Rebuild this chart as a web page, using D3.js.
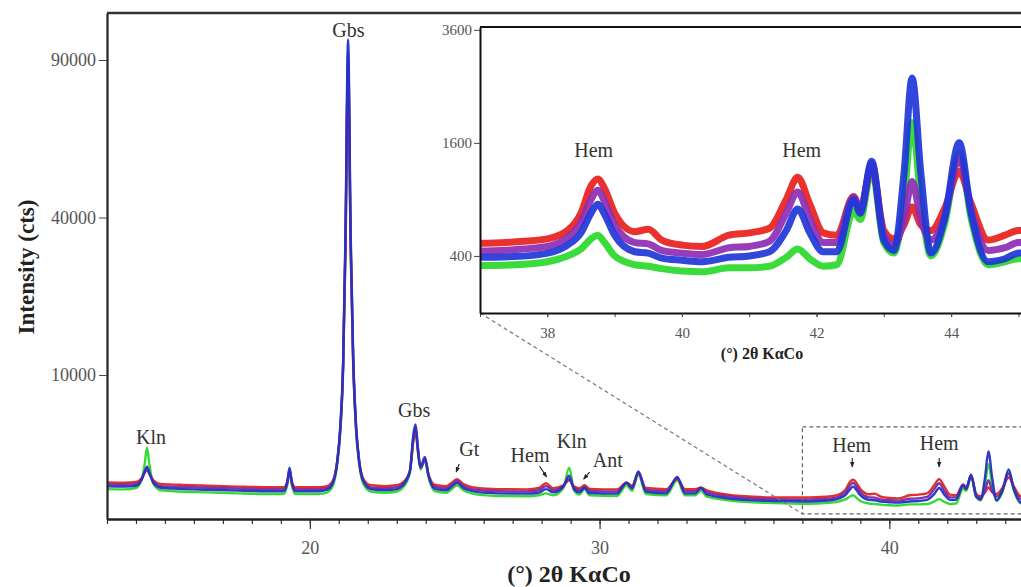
<!DOCTYPE html>
<html><head><meta charset="utf-8">
<script src="https://cdn.jsdelivr.net/npm/d3@7"></script>
<style>
html,body{margin:0;padding:0;background:#fff;}
svg{display:block;font-family:"Liberation Serif","Times New Roman",serif;}
</style></head><body>
<svg id="chart" width="1021" height="587"></svg>
<script>
// ---------- DATA ----------
const angles = [13.0,13.6,14.0,14.2,14.3,14.38,14.46,14.6,14.85,15.5,16.5,17.5,18.5,19.1,19.22,19.3,19.38,19.5,20.3,20.6,20.8,20.95,21.05,21.15,21.23,21.32,21.41,21.5,21.6,21.7,21.85,22.1,22.6,23.0,23.2,23.45,23.58,23.65,23.73,23.82,23.97,24.1,24.3,24.7,24.9,25.08,25.3,25.8,26.5,27.5,27.9,28.15,28.4,28.75,28.95,29.12,29.3,29.48,29.65,30.6,30.93,31.12,31.34,31.6,32.3,32.68,32.95,33.3,33.5,33.7,35.0,36.0,37.0,37.5,38.0,38.3,38.5,38.65,38.75,38.85,39.0,39.3,39.5,39.7,40.0,40.3,40.7,41.0,41.3,41.55,41.72,41.9,42.1,42.3,42.55,42.65,42.82,43.0,43.15,43.3,43.42,43.55,43.7,43.9,44.12,44.3,44.55,44.8,45.0,45.5];
const green  = [760,750,800,1150,1900,2900,1900,950,720,680,650,620,600,600,900,1500,900,600,600,650,900,1900,4000,11000,32000,88000,32000,11000,4000,1900,950,680,640,680,800,1400,3500,4200,2600,1600,2100,1200,700,640,760,900,720,580,540,530,560,620,560,800,1700,720,580,760,560,540,900,700,1350,600,560,1100,560,560,700,520,380,350,335,340,360,400,450,530,560,500,400,340,330,315,300,295,320,320,330,390,450,380,330,340,780,700,1250,500,420,900,1900,900,400,650,1450,700,340,360,380,380];
const blue   = [860,850,880,1150,1500,1750,1450,1000,810,770,740,710,690,690,1000,1700,1000,690,690,740,1000,2100,4500,12000,36000,98000,36000,12000,4500,2100,1050,760,720,760,880,1500,4000,4700,2900,1700,2300,1300,780,720,850,1000,800,660,620,610,640,760,650,850,1300,750,650,800,630,610,1000,780,1500,670,620,1250,620,620,800,590,430,400,390,395,420,480,580,760,850,750,560,430,420,385,370,360,390,400,430,600,800,580,430,430,900,760,1350,520,440,1200,2650,1200,420,700,1600,750,360,380,420,420];
const purple = [930,920,950,1150,1450,1650,1400,1050,870,840,810,780,760,760,1000,1600,1000,760,760,800,1050,2100,4300,11500,34000,93000,34000,11500,4300,2100,1100,820,790,830,940,1500,3700,4400,2800,1700,2200,1300,850,790,920,1080,870,730,690,680,720,870,720,880,1150,800,720,850,700,680,1000,830,1450,730,690,1200,690,690,800,650,480,450,435,445,470,540,670,900,1000,880,650,500,490,440,420,410,460,470,510,760,980,700,500,500,920,780,1320,560,480,700,1100,700,520,720,1400,780,440,460,500,500];
const red    = [1010,1000,1030,1200,1450,1600,1400,1100,950,920,880,850,830,830,1050,1500,1050,830,830,870,1100,2100,4200,11000,32000,89000,32000,11000,4200,2100,1150,900,870,900,1000,1500,3500,4100,2700,1700,2100,1350,920,870,1000,1150,950,800,760,750,800,980,790,900,1100,850,790,900,770,750,1000,880,1400,800,760,1150,760,760,820,720,530,500,495,505,530,600,760,1050,1130,1020,760,590,610,520,480,470,560,580,620,900,1150,850,580,560,930,800,1280,600,530,650,820,650,600,800,1220,850,520,560,600,600];

const seriesOrder  = ["green", "red", "purple", "blue"];
const seriesValues = {green, red, purple, blue};

const mainXTicks  = [20, 30, 40];
const mainYTicks  = [10000, 40000, 90000];
const insetXTicks = [38, 40, 42, 44];
const insetYTicks = [400, 1600, 3600];

const peakLabels      = ["Gbs", "Kln", "Gbs", "Gt", "Hem", "Kln", "Ant", "Hem", "Hem"];
const peakLabelAngles = [21.33, 14.52, 23.6, 25.5, 27.6, 29.04, 30.28, 38.7, 41.72];
const peakLabelCts    = [99000, 3160, 5390, 2360, 2007, 2880, 1730, 2610, 2745];

const arrowAngles = [25.05, 28.17, 29.45, 38.72, 41.72];
const arrowCts    = [1475, 1245, 1155, 1730, 1730];

const insetLabels      = ["Hem", "Hem"];
const insetLabelAngles = [38.69, 41.78];
const insetLabelCts    = [1406, 1406];

const zoomAngles = [37, 45.2];
const zoomCts    = [140, 4500];

// ---------- STYLE ----------
const colors = {green:"#2bd82b", red:"#e8201c", purple:"#8e2cb4", blue:"#1f36d8"};
const mainColors = {green:"#2bd82b", red:"#e0241f", purple:"#7a2aa8", blue:"#2530c4"};
const arrowOffsets = [[3,-8],[-7,-11],[6,-7],[0,-9],[0,-9]];

const svg = d3.select("#chart");
const x  = d3.scaleLinear().domain([13, 45.2]).range([107, 1040]);
const y  = d3.scaleSqrt().domain([74, 108800]).range([519, 13]);
const xi = d3.scaleLinear().domain([37, 45.2]).range([480, 1031.9]);
const yi = d3.scaleSqrt().domain([98, 3660]).range([313, 27]);

const defs = svg.append("defs");
defs.append("clipPath").attr("id","clipMain").append("rect")
  .attr("x",107).attr("y",13).attr("width",1021-107).attr("height",519-13);
defs.append("clipPath").attr("id","clipInset").append("rect")
  .attr("x",480).attr("y",27).attr("width",1021-480).attr("height",313-27);
defs.append("marker").attr("id","arr").attr("viewBox","0 0 10 10")
  .attr("refX",9).attr("refY",5).attr("markerWidth",5).attr("markerHeight",5)
  .attr("orient","auto").append("path").attr("d","M0,1 L10,5 L0,9 Z").attr("fill","#222");

const seriesData = k => angles.map((a,i)=>[a, seriesValues[k][i]]);

// ---------- MAIN ----------
const lineMain = d3.line().x(d=>x(d[0])).y(d=>y(d[1])).curve(d3.curveMonotoneX);
const gMain = svg.append("g").attr("clip-path","url(#clipMain)");
seriesOrder.forEach(k=>{
  gMain.append("path").datum(seriesData(k)).attr("d",lineMain)
    .attr("fill","none").attr("stroke",mainColors[k]).attr("stroke-width",2.4)
    .attr("stroke-linejoin","round").attr("opacity",0.95);
});

// zoom box
svg.append("rect").attr("x",x(zoomAngles[0])).attr("y",y(zoomCts[1]))
  .attr("width",x(zoomAngles[1])-x(zoomAngles[0])).attr("height",y(zoomCts[0])-y(zoomCts[1]))
  .attr("fill","none").attr("stroke","#666").attr("stroke-width",1.2).attr("stroke-dasharray","4,3");

// axes
const xMinor = d3.axisBottom(x).tickValues(d3.range(13,46)).tickSize(5).tickFormat("").tickSizeOuter(0);
svg.append("g").attr("transform","translate(0,519)").call(xMinor)
  .call(g=>g.select(".domain").remove())
  .call(g=>g.selectAll("line").attr("stroke","#333").attr("stroke-width",1.2));
const xMajor = d3.axisBottom(x).tickValues(mainXTicks).tickSize(10).tickPadding(12).tickSizeOuter(0);
svg.append("g").attr("transform","translate(0,519)").call(xMajor)
  .call(g=>g.select(".domain").attr("stroke","#222").attr("stroke-width",2.6))
  .call(g=>g.selectAll("line").attr("stroke","#333").attr("stroke-width",1.2))
  .call(g=>g.selectAll("text").attr("font-size",18).attr("fill","#555").attr("font-family","Liberation Serif, serif"));
const yAx = d3.axisLeft(y).tickValues(mainYTicks).tickSize(8).tickPadding(3).tickSizeOuter(0).tickFormat(d3.format("d"));
svg.append("g").attr("transform","translate(107,0)").call(yAx)
  .call(g=>g.select(".domain").attr("stroke","#222").attr("stroke-width",2.2))
  .call(g=>g.selectAll("line").attr("stroke","#444"))
  .call(g=>g.selectAll("text").attr("font-size",18).attr("fill","#555").attr("font-family","Liberation Serif, serif"));
svg.append("line").attr("x1",107).attr("x2",1021).attr("y1",13).attr("y2",13)
  .attr("stroke","#333").attr("stroke-width",2.4);

svg.append("text").attr("x",569).attr("y",582).attr("text-anchor","middle")
  .attr("font-size",24).attr("font-weight","bold").attr("fill","#222").text("(°) 2θ KαCo");
svg.append("text").attr("transform","translate(34,267) rotate(-90)").attr("text-anchor","middle")
  .attr("font-size",23).attr("font-weight","bold").attr("fill","#222").text("Intensity (cts)");

// peak labels
peakLabels.forEach((t,i)=>{
  svg.append("text").attr("x",x(peakLabelAngles[i])).attr("y",y(peakLabelCts[i]))
    .attr("text-anchor","middle").attr("font-size",20).attr("fill","#333").text(t);
});
arrowAngles.forEach((a,i)=>{
  const tx=x(a), ty=y(arrowCts[i]);
  svg.append("line").attr("x1",tx+arrowOffsets[i][0]).attr("y1",ty+arrowOffsets[i][1])
    .attr("x2",tx).attr("y2",ty).attr("stroke","#222").attr("stroke-width",1.1)
    .attr("marker-end","url(#arr)");
});

// connector
svg.append("line").attr("x1",xi(37)).attr("y1",yi(98)).attr("x2",x(zoomAngles[0])).attr("y2",y(zoomCts[0]))
  .attr("stroke","#777").attr("stroke-width",1.2).attr("stroke-dasharray","4,3");

// ---------- INSET ----------
svg.append("rect").attr("x",480).attr("y",27).attr("width",560).attr("height",286).attr("fill","#fff");
const lineInset = d3.line().x(d=>xi(d[0])).y(d=>yi(d[1])).curve(d3.curveMonotoneX);
const gIn = svg.append("g").attr("clip-path","url(#clipInset)");
seriesOrder.forEach(k=>{
  gIn.append("path").datum(seriesData(k).filter(d=>d[0]>=36)).attr("d",lineInset)
    .attr("fill","none").attr("stroke",colors[k]).attr("stroke-width",7)
    .attr("stroke-linejoin","round").attr("opacity",0.92);
});
const xiMinor = d3.axisBottom(xi).tickValues(d3.range(37,46)).tickSize(4).tickFormat("").tickSizeOuter(0);
svg.append("g").attr("transform","translate(0,313)").call(xiMinor)
  .call(g=>g.select(".domain").remove())
  .call(g=>g.selectAll("line").attr("stroke","#444"));
const xiAx = d3.axisBottom(xi).tickValues(insetXTicks).tickSize(4).tickPadding(10).tickSizeOuter(0);
svg.append("g").attr("transform","translate(0,313)").call(xiAx)
  .call(g=>g.select(".domain").attr("stroke","#111").attr("stroke-width",2))
  .call(g=>g.selectAll("line").attr("stroke","#444"))
  .call(g=>g.selectAll("text").attr("font-size",15).attr("fill","#555").attr("font-family","Liberation Serif, serif"));
const yiAx = d3.axisLeft(yi).tickValues(insetYTicks).tickSize(6).tickPadding(2).tickSizeOuter(0).tickFormat(d3.format("d"));
svg.append("g").attr("transform","translate(480,0)").call(yiAx)
  .call(g=>g.select(".domain").attr("stroke","#111").attr("stroke-width",2))
  .call(g=>g.selectAll("line").attr("stroke","#444"))
  .call(g=>g.selectAll("text").attr("font-size",15).attr("fill","#555").attr("font-family","Liberation Serif, serif"));
svg.append("line").attr("x1",480).attr("x2",1021).attr("y1",27).attr("y2",27)
  .attr("stroke","#111").attr("stroke-width",2);
svg.append("text").attr("x",762).attr("y",359).attr("text-anchor","middle")
  .attr("font-size",16).attr("font-weight","bold").attr("fill","#222").text("(°) 2θ KαCo");
insetLabels.forEach((t,i)=>{
  svg.append("text").attr("x",xi(insetLabelAngles[i])).attr("y",yi(insetLabelCts[i]))
    .attr("text-anchor","middle").attr("font-size",20).attr("fill","#333").text(t);
});
</script>
</body></html>
